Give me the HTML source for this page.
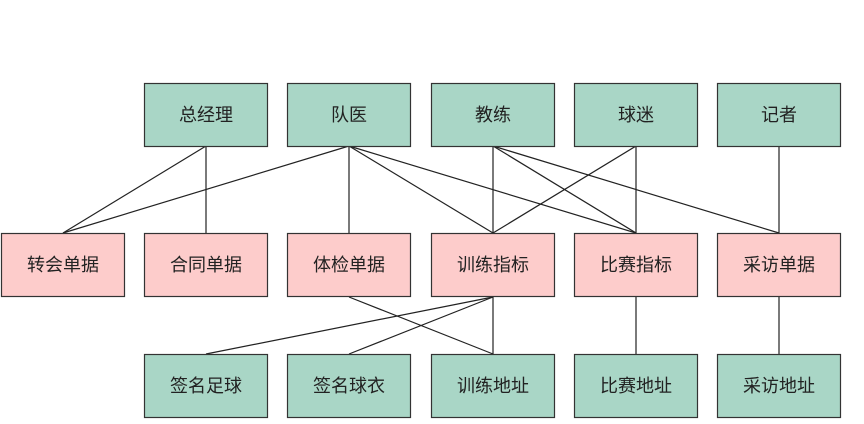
<!DOCTYPE html>
<html><head><meta charset="utf-8"><style>
body{margin:0;background:#fff;width:864px;height:419px;overflow:hidden;font-family:"Liberation Sans","Noto Sans CJK SC",sans-serif}
</style></head><body>
<svg width="864" height="419" xmlns="http://www.w3.org/2000/svg" font-family="Liberation Sans, Noto Sans CJK SC, sans-serif" font-size="18">
<g stroke="#222" stroke-width="1.2" fill="none">
<line x1="206" y1="146" x2="63" y2="233"/><line x1="206" y1="146" x2="206" y2="233"/>
<line x1="349" y1="146" x2="63" y2="233"/><line x1="349" y1="146" x2="349" y2="233"/>
<line x1="349" y1="146" x2="493" y2="233"/><line x1="349" y1="146" x2="636" y2="233"/>
<line x1="493" y1="146" x2="493" y2="233"/><line x1="493" y1="146" x2="636" y2="233"/><line x1="493" y1="146" x2="779" y2="233"/>
<line x1="636" y1="146" x2="493" y2="233"/><line x1="636" y1="146" x2="636" y2="233"/>
<line x1="779" y1="146" x2="779" y2="233"/>
<line x1="493" y1="297" x2="206" y2="354"/><line x1="493" y1="297" x2="349" y2="354"/><line x1="493" y1="297" x2="493" y2="354"/>
<line x1="349" y1="297" x2="493" y2="354"/>
<line x1="636" y1="297" x2="636" y2="354"/><line x1="779" y1="297" x2="779" y2="354"/>
</g>
<g stroke="#333" stroke-width="1.2">
<g fill="#a9d6c6">
<rect x="144.5" y="83.5" width="123" height="63"/><rect x="287.5" y="83.5" width="123" height="63"/><rect x="431.5" y="83.5" width="123" height="63"/><rect x="574.5" y="83.5" width="123" height="63"/><rect x="717.5" y="83.5" width="123" height="63"/>
<rect x="144.5" y="354.5" width="123" height="63"/><rect x="287.5" y="354.5" width="123" height="63"/><rect x="431.5" y="354.5" width="123" height="63"/><rect x="574.5" y="354.5" width="123" height="63"/><rect x="717.5" y="354.5" width="123" height="63"/>
</g>
<g fill="#fdcccb">
<rect x="1.5" y="233.5" width="123" height="63"/><rect x="144.5" y="233.5" width="123" height="63"/><rect x="287.5" y="233.5" width="123" height="63"/><rect x="431.5" y="233.5" width="123" height="63"/><rect x="574.5" y="233.5" width="123" height="63"/><rect x="717.5" y="233.5" width="123" height="63"/>
</g>
</g>
<g fill="#222" text-anchor="middle">
<text x="206" y="121">总经理</text><text x="349" y="121">队医</text><text x="493" y="121">教练</text><text x="636" y="121">球迷</text><text x="779" y="121">记者</text>
<text x="63" y="271">转会单据</text><text x="206" y="271">合同单据</text><text x="349" y="271">体检单据</text><text x="493" y="271">训练指标</text><text x="636" y="271">比赛指标</text><text x="779" y="271">采访单据</text>
<text x="206" y="392">签名足球</text><text x="349" y="392">签名球衣</text><text x="493" y="392">训练地址</text><text x="636" y="392">比赛地址</text><text x="779" y="392">采访地址</text>
</g>
</svg>
</body></html>
